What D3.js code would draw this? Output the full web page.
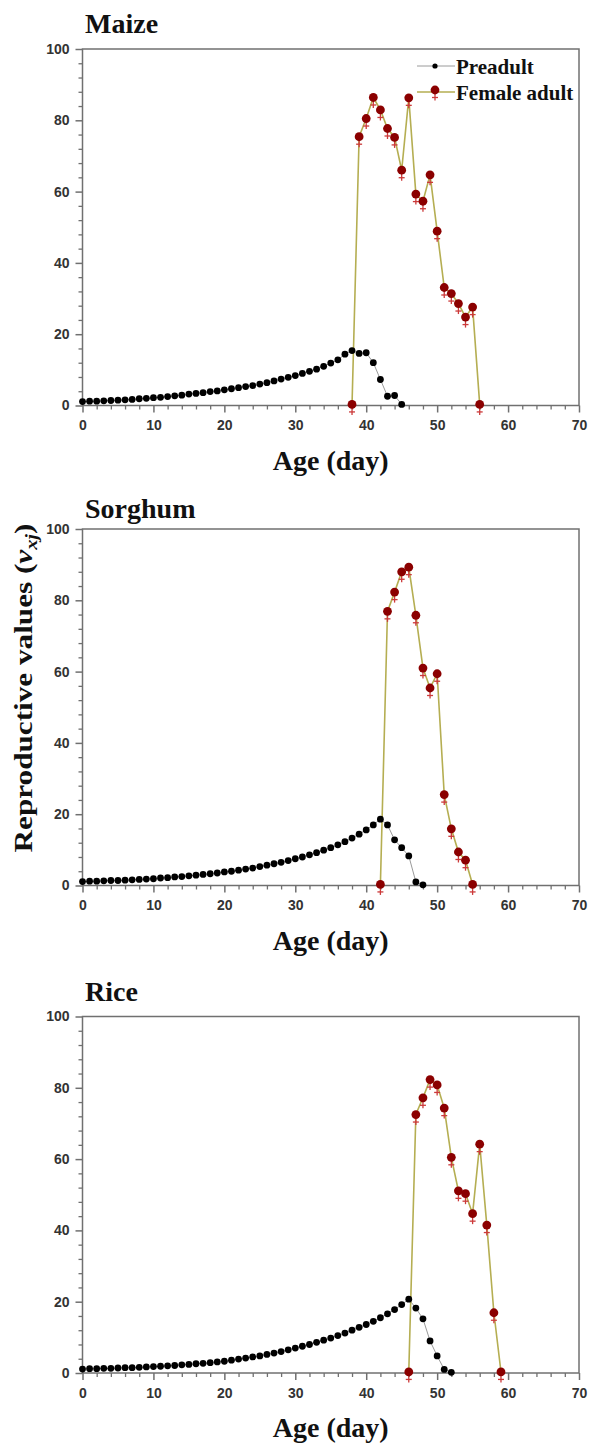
<!DOCTYPE html>
<html>
<head>
<meta charset="utf-8">
<script src="https://cdn.jsdelivr.net/npm/d3@7"></script>
<style>
  body { margin: 0; background: #fff; }
  .tick text { font-family: "Liberation Sans", Arial, sans-serif; font-weight: bold; font-size: 14px; fill: #333; }
  .title { font-family: "Liberation Serif", "Times New Roman", serif; font-weight: bold; fill: #111; }
</style>
</head>
<body>
<svg width="595" height="1447"></svg>
<script>
// Reproductive values by age; each array starts at the given day, one value per day.
var crops = ["Maize", "Sorghum", "Rice"];

var maizePreadultStart = 0;
var maizePreadult = [1.1, 1.2, 1.2, 1.3, 1.4, 1.5, 1.6, 1.7, 1.9, 2.0, 2.2, 2.3, 2.5, 2.7, 2.9, 3.2,
  3.4, 3.6, 3.9, 4.1, 4.4, 4.7, 5.0, 5.3, 5.6, 6.0, 6.4, 6.9, 7.4, 7.9, 8.4, 9.0, 9.6, 10.2, 11.0,
  11.9, 12.8, 14.4, 15.4, 14.6, 14.8, 12.0, 7.3, 2.6, 2.8, 0.3];
var maizeFemaleStart = 38;
var maizeFemale = [0.3, 75.4, 80.5, 86.4, 82.9, 77.7, 75.2, 66.0, 86.3, 59.3, 57.3, 64.7, 48.9,
  33.1, 31.4, 28.6, 24.8, 27.6, 0.3];

var sorghumPreadultStart = 0;
var sorghumPreadult = [1.1, 1.2, 1.2, 1.3, 1.4, 1.4, 1.5, 1.6, 1.7, 1.8, 1.9, 2.1, 2.2, 2.4, 2.5,
  2.7, 2.9, 3.1, 3.3, 3.5, 3.8, 4.0, 4.3, 4.6, 4.9, 5.3, 5.7, 6.1, 6.5, 7.0, 7.5, 8.0, 8.6, 9.2,
  9.9, 10.6, 11.4, 12.3, 13.3, 14.4, 15.6, 17.0, 18.6, 17.0, 12.8, 10.6, 8.3, 1.0, 0.2];
var sorghumFemaleStart = 42;
var sorghumFemale = [0.3, 76.9, 82.3, 88.0, 89.3, 75.8, 61.0, 55.4, 59.4, 25.5, 15.9, 9.4, 7.1, 0.3];

var ricePreadultStart = 0;
var ricePreadult = [1.1, 1.2, 1.2, 1.3, 1.3, 1.4, 1.5, 1.5, 1.6, 1.7, 1.8, 1.9, 2.0, 2.1, 2.3,
  2.4, 2.6, 2.7, 2.9, 3.1, 3.3, 3.6, 3.9, 4.2, 4.5, 4.8, 5.2, 5.6, 6.0, 6.5, 7.0, 7.5, 8.0, 8.6,
  9.2, 9.8, 10.5, 11.2, 12.0, 12.8, 13.6, 14.5, 15.5, 16.6, 17.8, 19.2, 20.7, 18.2, 15.2, 9.0,
  4.8, 1.0, 0.2];
var riceFemaleStart = 46;
var riceFemale = [0.3, 72.5, 77.2, 82.3, 80.8, 74.3, 60.5, 51.1, 50.3, 44.7, 64.2, 41.5, 16.9, 0.3];

var xTicks = [0, 10, 20, 30, 40, 50, 60, 70];
var yTicks = [0, 20, 40, 60, 80, 100];
var seriesNames = ["Preadult", "Female adult"];

var panels = [
  { name: crops[0], top: 49, titleY: 33, pre: maizePreadult, preStart: maizePreadultStart, fem: maizeFemale, femStart: maizeFemaleStart, legend: true },
  { name: crops[1], top: 529, titleY: 518, pre: sorghumPreadult, preStart: sorghumPreadultStart, fem: sorghumFemale, femStart: sorghumFemaleStart },
  { name: crops[2], top: 1016.5, titleY: 1001, pre: ricePreadult, preStart: ricePreadultStart, fem: riceFemale, femStart: riceFemaleStart }
];

var svg = d3.select("svg");
var left = 82.5, right = 579, plotH = 356.5;
var axisColor = "#707070", femLine = "#b5ae52", femDot = "#8b0000", femCross = "#cc3a3a";

var x = d3.scaleLinear().domain([0, 70]).range([left, right]);

function toPoints(values, start) {
  return values.map(function(v, i) { return { day: start + i, v: v }; });
}

// Venus-like marker: filled circle with a small cross below.
function venus(g, px, py) {
  g.append("line").attr("x1", px).attr("x2", px).attr("y1", py + 3).attr("y2", py + 10.5)
    .attr("stroke", femCross).attr("stroke-width", 1.3);
  g.append("line").attr("x1", px - 3).attr("x2", px + 3).attr("y1", py + 7.5).attr("y2", py + 7.5)
    .attr("stroke", femCross).attr("stroke-width", 1.3);
  g.append("circle").attr("cx", px).attr("cy", py).attr("r", 4.4).attr("fill", femDot);
}

panels.forEach(function(p) {
  var y = d3.scaleLinear().domain([0, 100]).range([p.top + plotH, p.top]);
  var g = svg.append("g");

  // frame
  g.append("rect")
    .attr("x", left).attr("y", p.top)
    .attr("width", right - left).attr("height", plotH)
    .attr("fill", "none").attr("stroke", axisColor).attr("stroke-width", 1.5);

  // minor ticks
  var xMinor = d3.range(0, 71, 2).filter(function(d) { return d % 10 != 0; });
  var yMinor = d3.range(0, 101, 4).filter(function(d) { return d % 20 != 0; });
  g.append("g")
    .attr("transform", "translate(0," + (p.top + plotH) + ")")
    .call(d3.axisBottom(x).tickValues(xMinor).tickSize(4).tickFormat(""))
    .call(function(a) { a.select(".domain").remove(); a.selectAll("line").attr("stroke", axisColor).attr("stroke-width", 1.3); });
  g.append("g")
    .attr("transform", "translate(" + left + ",0)")
    .call(d3.axisLeft(y).tickValues(yMinor).tickSize(4).tickFormat(""))
    .call(function(a) { a.select(".domain").remove(); a.selectAll("line").attr("stroke", axisColor).attr("stroke-width", 1.3); });

  // major ticks + labels
  g.append("g")
    .attr("transform", "translate(0," + (p.top + plotH) + ")")
    .call(d3.axisBottom(x).tickValues(xTicks).tickSize(7).tickPadding(8))
    .call(function(a) { a.select(".domain").remove(); a.selectAll("line").attr("stroke", axisColor).attr("stroke-width", 1.5); });
  g.append("g")
    .attr("transform", "translate(" + left + ",0)")
    .call(d3.axisLeft(y).tickValues(yTicks).tickSize(7).tickPadding(6))
    .call(function(a) { a.select(".domain").remove(); a.selectAll("line").attr("stroke", axisColor).attr("stroke-width", 1.5); });

  var line = d3.line().x(function(d) { return x(d.day); }).y(function(d) { return y(d.v); });
  var pre = toPoints(p.pre, p.preStart);
  var fem = toPoints(p.fem, p.femStart);

  g.append("path").datum(pre).attr("d", line)
    .attr("fill", "none").attr("stroke", "#9a9a9a").attr("stroke-width", 1);
  g.append("path").datum(fem).attr("d", line)
    .attr("fill", "none").attr("stroke", femLine).attr("stroke-width", 1.6);

  g.selectAll(".pre").data(pre).enter().append("circle")
    .attr("class", "pre")
    .attr("cx", function(d) { return x(d.day); })
    .attr("cy", function(d) { return y(d.v); })
    .attr("r", 3.4).attr("fill", "#000");

  fem.forEach(function(d) { venus(g, x(d.day), y(d.v)); });

  g.append("text").attr("class", "title")
    .attr("x", 85).attr("y", p.titleY)
    .style("font-size", "28px")
    .text(p.name);

  g.append("text").attr("class", "title")
    .attr("x", (left + right) / 2).attr("y", p.top + plotH + 64)
    .attr("text-anchor", "middle")
    .style("font-size", "28px")
    .text("Age (day)");

  if (p.legend) {
    var lg = g.append("g");
    lg.append("line").attr("x1", 417).attr("x2", 455).attr("y1", p.top + 17).attr("y2", p.top + 17)
      .attr("stroke", "#9a9a9a").attr("stroke-width", 1);
    lg.append("circle").attr("cx", 435).attr("cy", p.top + 17).attr("r", 2.6).attr("fill", "#000");
    lg.append("line").attr("x1", 417).attr("x2", 455).attr("y1", p.top + 43).attr("y2", p.top + 43)
      .attr("stroke", femLine).attr("stroke-width", 1.6);
    venus(lg, 435, p.top + 41);
    lg.selectAll("text").data(seriesNames).enter().append("text")
      .attr("class", "title")
      .attr("x", 456)
      .attr("y", function(d, i) { return p.top + 25 + i * 26; })
      .style("font-size", "21px")
      .text(function(d) { return d; });
  }
});

// shared y-axis label
var yl = svg.append("text").attr("class", "title")
  .attr("text-anchor", "middle")
  .attr("transform", "translate(32,688) rotate(-90) scale(1.2,1)")
  .style("font-size", "26px");
yl.append("tspan").text("Reproductive values (");
yl.append("tspan").style("font-style", "italic").text("v");
yl.append("tspan").style("font-style", "italic").style("font-size", "17px").attr("dy", 5).text("xj");
yl.append("tspan").attr("dy", -5).text(")");
</script>
</body>
</html>
